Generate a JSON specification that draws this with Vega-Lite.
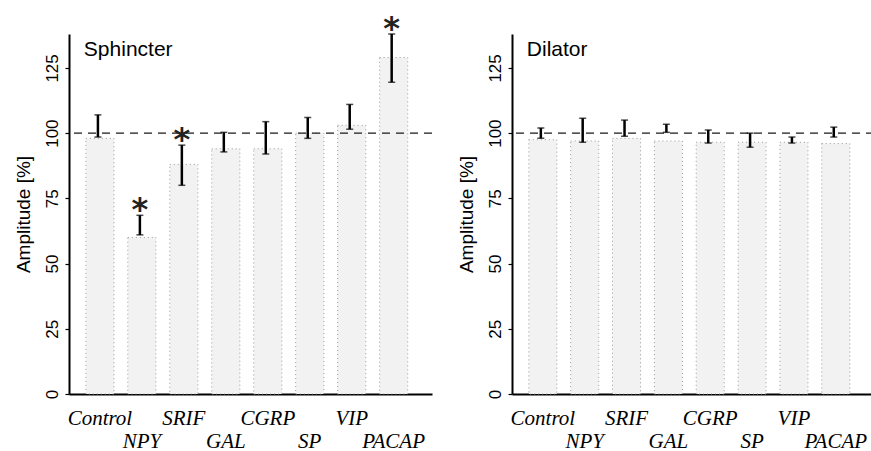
{
  "$schema": "https://vega.github.io/schema/vega-lite/v6.json",
  "background": "white",
  "padding": {"left": 14, "top": 13, "right": 1, "bottom": 0},
  "spacing": 24,
  "config": {
    "view": {"stroke": null},
    "font": "Liberation Sans",
    "axis": {"grid": false, "domainColor": "black", "tickColor": "black", "labelColor": "black", "titleColor": "black"}
  },
  "datasets": {
    "sph": [
      {"cat": "Control", "mean": 98, "lo": 98.5, "hi": 107, "sig": false},
      {"cat": "NPY", "mean": 60, "lo": 61, "hi": 68.5, "sig": true},
      {"cat": "SRIF", "mean": 88, "lo": 80, "hi": 95.4, "sig": true},
      {"cat": "GAL", "mean": 94, "lo": 92.8, "hi": 100.3, "sig": false},
      {"cat": "CGRP", "mean": 94, "lo": 92, "hi": 104.4, "sig": false},
      {"cat": "SP", "mean": 100, "lo": 98, "hi": 106, "sig": false},
      {"cat": "VIP", "mean": 103, "lo": 101.5, "hi": 111, "sig": false},
      {"cat": "PACAP", "mean": 129, "lo": 119.5, "hi": 138, "sig": true}
    ],
    "dil": [
      {"cat": "Control", "mean": 97.5, "lo": 98, "hi": 102, "sig": false},
      {"cat": "NPY", "mean": 97, "lo": 96.5, "hi": 105.7, "sig": false},
      {"cat": "SRIF", "mean": 98, "lo": 98.8, "hi": 105, "sig": false},
      {"cat": "GAL", "mean": 97, "lo": 100.3, "hi": 103.4, "sig": false},
      {"cat": "CGRP", "mean": 96.5, "lo": 96.2, "hi": 101.2, "sig": false},
      {"cat": "SP", "mean": 96.5, "lo": 94.6, "hi": 100, "sig": false},
      {"cat": "VIP", "mean": 96.5, "lo": 96.2, "hi": 98.5, "sig": false},
      {"cat": "PACAP", "mean": 96, "lo": 98.5, "hi": 102.3, "sig": false}
    ],
    "t1": [{"t": "Sphincter"}],
    "t2": [{"t": "Dilator"}]
  },
  "hconcat": [
    {
      "width": 363, "height": 360,
      "data": {"name": "sph"},
      "layer": [
        {
          "mark": {"type": "bar", "fill": "#f2f2f2", "stroke": "#999999", "strokeDash": [1, 3], "strokeWidth": 1},
          "encoding": {
            "x": {"field": "cat", "type": "nominal", "scale": {"domain": ["Control","NPY","SRIF","GAL","CGRP","SP","VIP","PACAP"], "paddingInner": 0.33, "paddingOuter": 0.49, "align": 0.41},
              "axis": {"title": null, "ticks": false, "tickSize": 0, "labelAngle": 0, "labelFont": "Liberation Serif", "labelFontStyle": "italic", "labelFontSize": 21, "labelPadding": 13, "labelBaseline": "top", "labelLineHeight": 23, "labelOverlap": false, "labelExpr": "indexof(['NPY','GAL','SP','PACAP'], datum.value) >= 0 ? ['', datum.label] : datum.label", "domainWidth": 2}},
            "y": {"field": "mean", "type": "quantitative", "scale": {"domain": [0, 138], "nice": false},
              "axis": {"values": [0,12.5,25,37.5,50,62.5,75,87.5,100,112.5,125,137.5], "labelExpr": "datum.value % 25 === 0 ? datum.label : ''", "title": "Amplitude [%]", "labelAngle": -90, "labelAlign": "center", "labelBaseline": "alphabetic", "labelPadding": 8, "labelFontSize": 17, "labelOverlap": false, "labelFlush": false, "titleFontSize": 19, "titleFontWeight": "normal", "titlePadding": 10, "tickSize": 4, "tickWidth": 1.2, "domainWidth": 2}}
          }
        },
        {
          "data": {"values": [{}]},
          "mark": {"type": "rule", "strokeDash": [8, 6], "color": "#1a1a1a", "strokeWidth": 1.2},
          "encoding": {"y": {"datum": 100}}
        },
        {
          "mark": {"type": "rule", "color": "black", "strokeWidth": 2.5, "xOffset": -2},
          "encoding": {"x": {"field": "cat", "type": "nominal"}, "y": {"field": "lo", "type": "quantitative"}, "y2": {"field": "hi"}}
        },
        {
          "mark": {"type": "tick", "color": "black", "thickness": 1.5, "size": 7, "xOffset": -2},
          "encoding": {"x": {"field": "cat", "type": "nominal"}, "y": {"field": "lo", "type": "quantitative"}}
        },
        {
          "mark": {"type": "tick", "color": "black", "thickness": 1.5, "size": 7, "xOffset": -2},
          "encoding": {"x": {"field": "cat", "type": "nominal"}, "y": {"field": "hi", "type": "quantitative"}}
        },
        {
          "transform": [{"filter": "datum.sig"}],
          "mark": {"type": "text", "text": "*", "font": "DejaVu Sans", "fontWeight": "bold", "fontSize": 32, "baseline": "middle", "dy": -5, "xOffset": -2, "color": "#222222"},
          "encoding": {"x": {"field": "cat", "type": "nominal"}, "y": {"field": "hi", "type": "quantitative"}}
        },
        {
          "data": {"name": "t1"},
          "mark": {"type": "text", "align": "left", "baseline": "middle", "fontSize": 21, "font": "Liberation Sans", "dx": -2, "color": "black"},
          "encoding": {"x": {"datum": "Control", "bandPosition": 0}, "y": {"datum": 132}, "text": {"field": "t"}}
        }
      ]
    },
    {
      "width": 362, "height": 360,
      "data": {"name": "dil"},
      "layer": [
        {
          "mark": {"type": "bar", "fill": "#f2f2f2", "stroke": "#999999", "strokeDash": [1, 3], "strokeWidth": 1},
          "encoding": {
            "x": {"field": "cat", "type": "nominal", "scale": {"domain": ["Control","NPY","SRIF","GAL","CGRP","SP","VIP","PACAP"], "paddingInner": 0.33, "paddingOuter": 0.49, "align": 0.41},
              "axis": {"title": null, "ticks": false, "tickSize": 0, "labelAngle": 0, "labelFont": "Liberation Serif", "labelFontStyle": "italic", "labelFontSize": 21, "labelPadding": 13, "labelBaseline": "top", "labelLineHeight": 23, "labelOverlap": false, "labelExpr": "indexof(['NPY','GAL','SP','PACAP'], datum.value) >= 0 ? ['', datum.label] : datum.label", "domainWidth": 2}},
            "y": {"field": "mean", "type": "quantitative", "scale": {"domain": [0, 138], "nice": false},
              "axis": {"values": [0,12.5,25,37.5,50,62.5,75,87.5,100,112.5,125,137.5], "labelExpr": "datum.value % 25 === 0 ? datum.label : ''", "title": "Amplitude [%]", "labelAngle": -90, "labelAlign": "center", "labelBaseline": "alphabetic", "labelPadding": 8, "labelFontSize": 17, "labelOverlap": false, "labelFlush": false, "titleFontSize": 19, "titleFontWeight": "normal", "titlePadding": 10, "tickSize": 4, "tickWidth": 1.2, "domainWidth": 2}}
          }
        },
        {
          "data": {"values": [{}]},
          "mark": {"type": "rule", "strokeDash": [8, 6], "color": "#1a1a1a", "strokeWidth": 1.2},
          "encoding": {"y": {"datum": 100}}
        },
        {
          "mark": {"type": "rule", "color": "black", "strokeWidth": 2.5, "xOffset": -2},
          "encoding": {"x": {"field": "cat", "type": "nominal"}, "y": {"field": "lo", "type": "quantitative"}, "y2": {"field": "hi"}}
        },
        {
          "mark": {"type": "tick", "color": "black", "thickness": 1.5, "size": 7, "xOffset": -2},
          "encoding": {"x": {"field": "cat", "type": "nominal"}, "y": {"field": "lo", "type": "quantitative"}}
        },
        {
          "mark": {"type": "tick", "color": "black", "thickness": 1.5, "size": 7, "xOffset": -2},
          "encoding": {"x": {"field": "cat", "type": "nominal"}, "y": {"field": "hi", "type": "quantitative"}}
        },
        {
          "data": {"name": "t2"},
          "mark": {"type": "text", "align": "left", "baseline": "middle", "fontSize": 21, "font": "Liberation Sans", "dx": -2, "color": "black"},
          "encoding": {"x": {"datum": "Control", "bandPosition": 0}, "y": {"datum": 132}, "text": {"field": "t"}}
        }
      ]
    }
  ]
}
